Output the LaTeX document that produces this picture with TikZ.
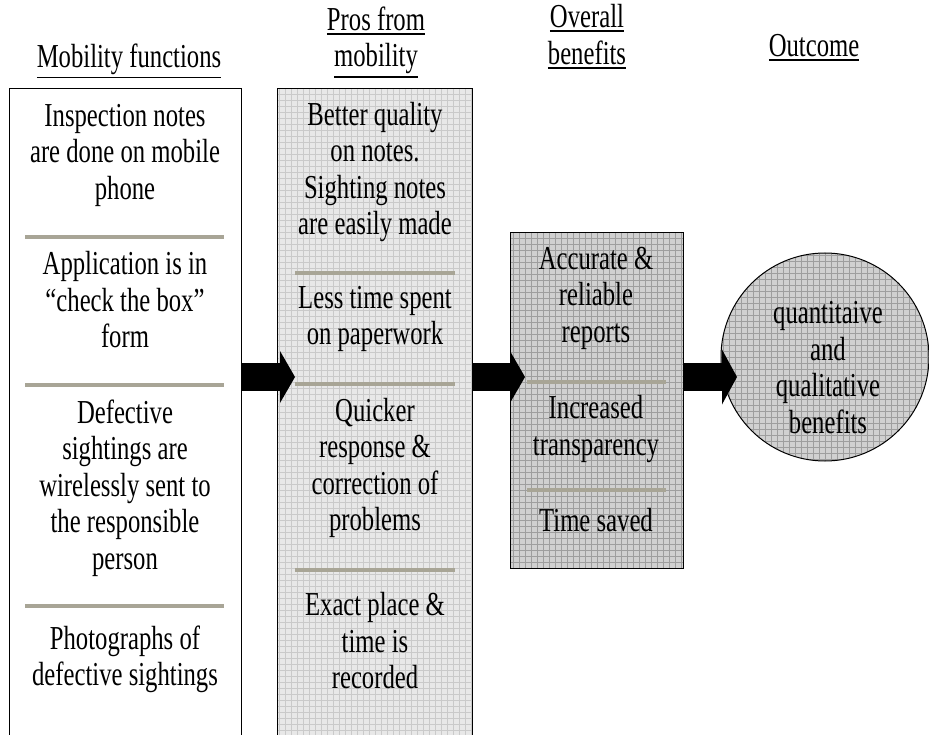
\documentclass[tikz,border=0pt]{standalone}
\usepackage{fontspec}
\setmainfont{Liberation Serif}[FakeStretch=0.737]
\usetikzlibrary{arrows.meta}

\definecolor{sepline}{RGB}{168,165,150}
\definecolor{lightfill}{RGB}{232,232,232}
\definecolor{lightgrid}{RGB}{202,202,202}
\definecolor{darkfill}{RGB}{208,208,208}
\definecolor{darkgrid}{RGB}{158,158,158}

% heading text with a thick underline just below its descenders
\newcommand\hdline[1]{\setbox0\hbox{#1}\rlap{\rule[\dimexpr-\dp0-3.9pt\relax]{\wd0}{1.8pt}}\box0}

\begin{document}
\begin{tikzpicture}[x=1pt,y=-1pt,
  txt/.style={align=center, font=\fontsize{33.5}{36.5}\selectfont, inner sep=0pt,
    execute at begin node=\strut, execute at end node=\strut},
  panel/.style={draw=black, line width=1.2pt, inner sep=0pt, anchor=north west},
  lightgridfill/.style={fill=lightfill, path picture={
    \draw[lightgrid, line width=0.5pt, step=6pt]
      (path picture bounding box.south west) grid (path picture bounding box.north east);}},
  darkgridfill/.style={fill=darkfill, path picture={
    \draw[darkgrid, line width=0.5pt, step=6pt]
      (path picture bounding box.south west) grid (path picture bounding box.north east);}},
  sep/.style={draw=sepline, line width=3.5pt},
  bigarrow/.style={line width=28pt, -{Triangle[length=15pt, width=#1, line width=0pt]}},
  bigarrow/.default=52pt
]
\useasboundingbox (0,0) rectangle (929,735);
\clip (0,0) rectangle (929,735);

% column headings
\node[txt] (h1) at (129,60) {\hdline{Mobility functions}};
\node[txt] (h2) at (376,42.5) {\hdline{Pros from}\\\hdline{mobility}};
\node[txt] (h3) at (587,40) {\hdline{Overall}\\\hdline{benefits}};
\node[txt] (h4) at (814,49) {\hdline{Outcome}};

% panels
\node[panel, minimum width=232pt, minimum height=720pt] (mob) at (9,88) {};
\node[panel, lightgridfill, minimum width=195pt, minimum height=720pt] (pros) at (277,88) {};
\node[panel, darkgridfill, minimum width=173pt, minimum height=336pt] (ben) at (510,232) {};
\node[circle, draw=black, line width=1pt, darkgridfill, minimum size=208pt, inner sep=0pt] (out) at (825,357) {};

% mobility functions
\node[txt] (m1) at (125,157) {Inspection notes\\are done on mobile\\phone};
\node[txt] (m2) at (125,305) {Application is in\\“check the box”\\form};
\node[txt] (m3) at (125,490) {Defective\\sightings are\\wirelessly sent to\\the responsible\\person};
\node[txt] (m4) at (125,661) {Photographs of\\defective sightings};
\draw[sep] (25,237) -- (224,237);
\draw[sep] (25,385) -- (224,385);
\draw[sep] (25,606) -- (224,606);

% pros from mobility
\node[txt] (p1) at (375,174) {Better quality\\on notes.\\Sighting notes\\are easily made};
\node[txt] (p2) at (375,321) {Less time spent\\on paperwork};
\node[txt] (p3) at (375,470) {Quicker\\response \&\\correction of\\problems};
\node[txt] (p4) at (375,646) {Exact place \&\\time is\\recorded};
\draw[sep] (295,273) -- (455,273);
\draw[sep] (295,384) -- (455,384);
\draw[sep] (295,570) -- (455,570);

% overall benefits
\node[txt] (b1) at (596,300) {Accurate \&\\reliable\\reports};
\node[txt] (b2) at (596,431) {Increased\\transparency};
\node[txt] (b3) at (596,524) {Time saved};
\draw[sep] (527,382) -- (666,382);
\draw[sep] (527,490) -- (666,490);

% outcome
\node[txt] (o1) at (828,373) {quantitaive\\and\\qualitative\\benefits};

% block arrows between the columns
\coordinate (t1) at (295,377);
\coordinate (t2) at (525,377);
\coordinate (t3) at (737,377);
\draw[bigarrow] (mob.east |- t1) -- (t1);
\draw[bigarrow] (pros.east |- t2) -- (t2);
\draw[bigarrow=55pt] (ben.east |- t3) -- (t3);
\end{tikzpicture}
\end{document}
